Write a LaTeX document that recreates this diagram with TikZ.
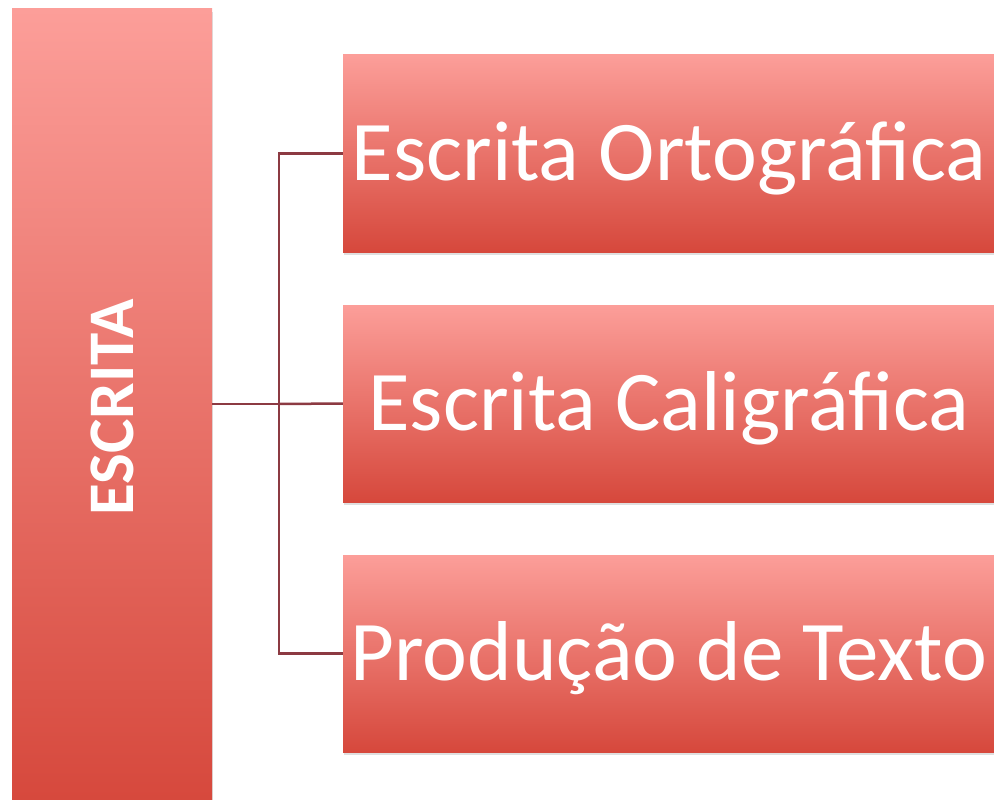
\documentclass[tikz,border=0pt]{standalone}
\usepackage{fontspec}
\setmainfont{Carlito}
\usetikzlibrary{shadows}
\definecolor{boxtop}{RGB}{252,158,153}
\definecolor{boxbot}{RGB}{214,72,60}
\definecolor{linkred}{RGB}{140,58,66}
\tikzset{
	box/.style={rectangle, top color=boxtop, bottom color=boxbot, inner sep=0pt,
		drop shadow={opacity=0.25, shadow xshift=1pt, shadow yshift=-3pt}},
	subbox/.style={box, minimum width=652pt, minimum height=197pt, text=white,
		font=\fontsize{85}{100}\selectfont, text height=54pt, text depth=0pt},
	link/.style={draw=linkred, line width=2.5pt}
}
\begin{document}
\begin{tikzpicture}[x=1pt,y=-1pt]
	\useasboundingbox[fill=white] (0,0) rectangle (994,800);
	\node (escrita) at (112,407)	[box, minimum width=200pt, minimum height=796pt,
		label={[rotate=90, text=white, font=\bfseries\fontsize{65}{78}\selectfont]center:ESCRITA}]	{};
	\node (orto) at (669,153.5)	[subbox]	{Escrita Ortográfica};
	\node (cali) at (669,403.5)	[subbox]	{Escrita Caligráfica};
	\node (prod) at (669,653.5)	[subbox]	{Produção de Texto};
	\coordinate (hub) at (279,404);
	\draw[link] (escrita.east |- hub) -- (hub);
	\draw[link] (hub) |- (orto.west);
	\draw[link] (hub) -- (cali.west);
	\draw[link] (hub) |- (prod.west);
\end{tikzpicture}
\end{document}
